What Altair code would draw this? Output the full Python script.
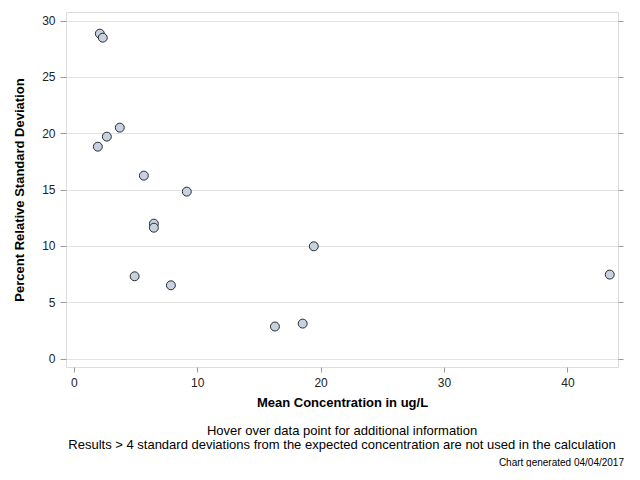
import altair as alt
import pandas as pd

mean_conc = [2.11, 2.35, 1.95, 2.68, 3.73, 5.68, 9.16, 6.49, 6.49, 4.93, 7.87, 19.45, 16.30, 18.55, 43.43]
pct_rsd = [28.84, 28.48, 18.81, 19.70, 20.50, 16.24, 14.82, 11.98, 11.62, 7.31, 6.51, 9.97, 2.85, 3.11, 7.46]

x_ticks = [0, 10, 20, 30, 40]
y_ticks = [0, 5, 10, 15, 20, 25, 30]

note_hover = "Hover over data point for additional information"
note_results = "Results > 4 standard deviations from the expected concentration are not used in the calculation"
generated = "Chart generated 04/04/2017"

df = pd.DataFrame({"x": mean_conc, "y": pct_rsd})

FONT = "Liberation Sans"
W, H = 552, 355

xscale = alt.Scale(domain=[-0.63, 44.1], nice=False, zero=False)
yscale = alt.Scale(domain=[-0.74, 30.76], nice=False, zero=False)

points = alt.Chart(df).mark_point(
    shape="circle", filled=True, size=80, fill="#c6d2e2", stroke="#2a2a2a", strokeWidth=1, opacity=1
).encode(
    x=alt.X("x:Q", scale=xscale, title="Mean Concentration in ug/L",
            axis=alt.Axis(values=x_ticks, grid=False, domain=False, tickColor="#9a9a9a",
                          tickSize=5, labelPadding=5, labelFont=FONT, labelFontSize=12,
                          labelColor="#222", titleFont=FONT, titleFontSize=13,
                          titleFontWeight="bold", titleColor="#000", titlePadding=8)),
    y=alt.Y("y:Q", scale=yscale, title="Percent Relative Standard Deviation",
            axis=alt.Axis(values=y_ticks, grid=True, gridColor="#e3e3e3", domain=False,
                          tickColor="#9a9a9a", tickSize=6, labelPadding=5, labelFont=FONT,
                          labelFontSize=12, labelColor="#222", titleFont=FONT, titleFontSize=13,
                          titleFontWeight="bold", titleColor="#000", titlePadding=15)),
)

right_axis = alt.Chart(df).mark_point(opacity=0).encode(
    x=alt.X("x:Q", scale=xscale),
    y=alt.Y("y:Q", scale=yscale,
            axis=alt.Axis(orient="right", values=y_ticks, labels=False, title=None, grid=False,
                          domain=False, tickColor="#9a9a9a", tickSize=5)),
)


def text_layer(txt, size, align, xpos, ypos):
    return alt.Chart(pd.DataFrame({"t": [txt]})).mark_text(
        font=FONT, fontSize=size, color="#000", align=align, baseline="middle"
    ).encode(text="t:N", x=alt.value(xpos), y=alt.value(ypos))


hover_text = text_layer(note_hover, 13, "center", W / 2, 419)
results_text = text_layer(note_results, 13, "center", W / 2, 433)
gen_text = text_layer(generated, 10, "right", 558, 451)

chart = alt.layer(points, right_axis, hover_text, results_text, gen_text).resolve_axis(
    y="independent"
).resolve_scale(y="shared").properties(
    width=W, height=H,
    autosize=alt.AutoSizeParams(type="none"),
    padding={"left": 58, "top": 4, "right": 8, "bottom": 100},
).configure_view(stroke="#a0a0a0", strokeWidth=1).configure(background="white")

chart.save("out.html", embed_options={"renderer": "svg", "actions": False})
